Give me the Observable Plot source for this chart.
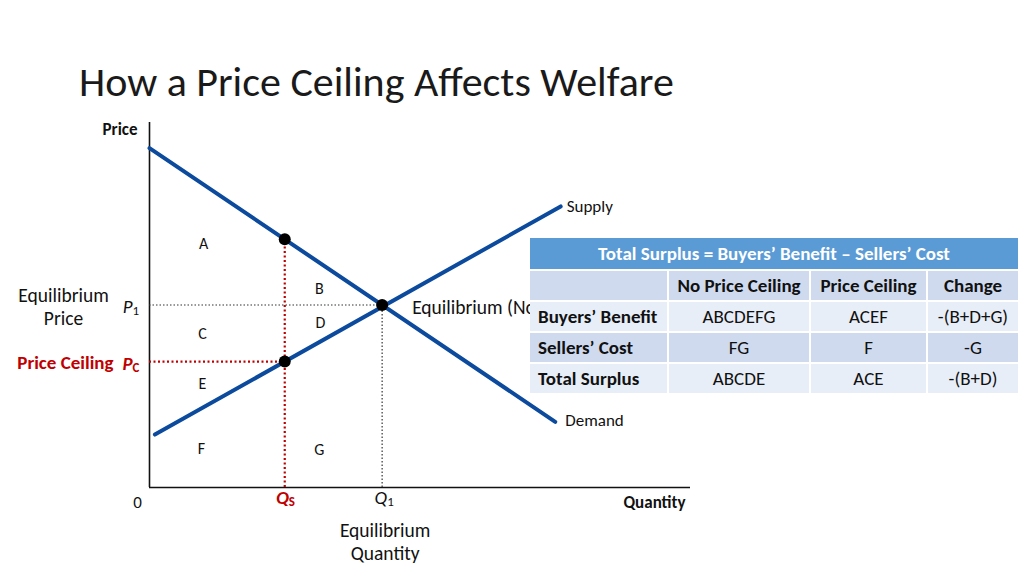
<!DOCTYPE html>
<html>
<head>
<meta charset="utf-8">
<script src="https://cdn.jsdelivr.net/npm/d3@7"></script>
<script src="https://cdn.jsdelivr.net/npm/@observablehq/plot@0.6"></script>
<style>
  html, body { margin: 0; padding: 0; background: #fff; }
  body { width: 1024px; height: 576px; overflow: hidden; position: relative; font-family: Carlito, Calibri, Lato, sans-serif; }
  #title { height: 115px; box-sizing: border-box; padding-left: 79px; padding-top: 61px; font-size: 42px; font-weight: 300; color: #1a1a1a; line-height: 1; white-space: nowrap; }
  #chart svg { display: block; }
  #tbl { position: absolute; left: 530px; top: 238px; display: grid; grid-template-columns: 137px 140px 115px 90px; grid-template-rows: 31px 29px 29px 29px 29px; gap: 2px; background: #fff; }
  #tbl div { display: flex; align-items: center; justify-content: center; font-size: 19px; color: #111; white-space: nowrap; }
  #tbl .head { grid-column: 1 / span 4; background: #5b9bd5; color: #fff; font-weight: 700; }
  #tbl .dark { background: #cfdaee; }
  #tbl .light { background: #e8eef8; }
  #tbl .bold { font-weight: 700; }
  #tbl .left { justify-content: flex-start; padding-left: 8px; }
</style>
</head>
<body>
<div id="title"></div>
<div id="chart"></div>
<div id="tbl"></div>
<script>
// ---- data ----
const titleText = "How a Price Ceiling Affects Welfare";
const xDomain = [0, 100];
const yDomain = [0, 100];
const demandQ = [0, 75];
const demandP = [93, 18];
const supplyQ = [1, 76];
const supplyP = [14.5, 77];
const Q1 = 43, P1 = 50;          // equilibrium
const QS = 25, PC = 34.5;        // price ceiling quantity / price
const PD = 68;                   // demand price at QS
const regionNames = ["A", "B", "C", "D", "E", "F", "G"];
const regionQ = [10, 31.4, 9.8, 31.6, 9.8, 9.6, 31.4];
const regionP = [66.8, 54.5, 42.2, 45.2, 28.5, 10.7, 10.4];

const tableTitle = "Total Surplus = Buyers’ Benefit – Sellers’ Cost";
const tableColumns = ["", "No Price Ceiling", "Price Ceiling", "Change"];
const tableRows = ["Buyers’ Benefit", "Sellers’ Cost", "Total Surplus"];
const noCeiling = ["ABCDEFG", "FG", "ABCDE"];
const withCeiling = ["ACEF", "F", "ACE"];
const change = ["-(B+D+G)", "-G", "-(B+D)"];

// ---- build ----
const FONT = "Carlito, Calibri, Lato, sans-serif";
const RED = "#c00000";
const BLUE = "#0b4a9c";
document.getElementById("title").textContent = titleText;

const demand = demandQ.map((q, i) => ({q, p: demandP[i]}));
const supply = supplyQ.map((q, i) => ({q, p: supplyP[i]}));
const regions = regionNames.map((t, i) => ({t, q: regionQ[i], p: regionP[i]}));
const dots = [{q: Q1, p: P1}, {q: QS, p: PC}, {q: QS, p: PD}];
const x0 = xDomain[0], x1 = xDomain[1], y0 = yDomain[0], y1 = yDomain[1];

const plot = Plot.plot({
  width: 1024,
  height: 461,
  margin: 0,
  x: {domain: xDomain, range: [149, 690], axis: null},
  y: {domain: yDomain, range: [372, 7], axis: null},
  style: {fontFamily: FONT, fontSize: "17px", background: "white", color: "#111", overflow: "visible"},
  marks: [
    // axes
    Plot.ruleX([{x: x0, a: y0, b: y1}], {x: "x", y1: "a", y2: "b", stroke: "#111", strokeWidth: 1.6}),
    Plot.ruleY([{y: y0, a: x0, b: x1}], {y: "y", x1: "a", x2: "b", stroke: "#111", strokeWidth: 1.6}),
    // dotted guides
    Plot.ruleY([{y: P1, a: x0, b: Q1}], {y: "y", x1: "a", x2: "b", stroke: "#333", strokeWidth: 1.2, strokeDasharray: "1.5,2"}),
    Plot.ruleX([{x: Q1, a: y0, b: P1}], {x: "x", y1: "a", y2: "b", stroke: "#333", strokeWidth: 1.2, strokeDasharray: "1.5,2"}),
    Plot.ruleY([{y: PC, a: x0, b: QS}], {y: "y", x1: "a", x2: "b", stroke: RED, strokeWidth: 2.2, strokeDasharray: "2,2.5"}),
    Plot.ruleX([{x: QS, a: y0, b: PD}], {x: "x", y1: "a", y2: "b", stroke: RED, strokeWidth: 2.2, strokeDasharray: "2,2.5"}),
    // curves
    Plot.line(demand, {x: "q", y: "p", stroke: BLUE, strokeWidth: 4}),
    Plot.line(supply, {x: "q", y: "p", stroke: BLUE, strokeWidth: 4}),
    Plot.dot(dots, {x: "q", y: "p", r: 6, fill: "#000"}),
    // region letters
    Plot.text(regions, {x: "q", y: "p", text: "t", fontSize: 16, fill: "#111"}),
    // curve labels
    Plot.text([supply[1]], {x: "q", y: "p", text: () => "Supply", textAnchor: "start", dx: 6, dy: 0, fontSize: 17}),
    Plot.text([demand[1]], {x: "q", y: "p", text: () => "Demand", textAnchor: "start", dx: 10, dy: -1, fontSize: 17}),
    Plot.text([{q: Q1, p: P1}], {x: "q", y: "p", text: () => "Equilibrium (No Price Ceiling)", textAnchor: "start", dx: 30, dy: 3, fontSize: 19.5}),
    // axis labels
    Plot.text([{q: x0, p: y1}], {x: "q", y: "p", text: () => "Price", textAnchor: "end", dx: -12, dy: 7, fontSize: 17, fontWeight: "bold"}),
    Plot.text([{q: x1, p: y0}], {x: "q", y: "p", text: () => "Quantity", textAnchor: "end", dx: -5, dy: 15, fontSize: 17, fontWeight: "bold"}),
    Plot.text([{q: x0, p: y0}], {x: "q", y: "p", text: () => "0", dx: -12, dy: 15, fontSize: 17}),
    // P1
    Plot.text([{q: x0, p: P1}], {x: "q", y: "p", text: () => "P", textAnchor: "end", dx: -17, dy: 2, fontSize: 19, fontStyle: "italic"}),
    Plot.text([{q: x0, p: P1}], {x: "q", y: "p", text: () => "1", textAnchor: "start", dx: -17, dy: 6, fontSize: 13}),
    Plot.text([{q: x0, p: P1}], {x: "q", y: "p", text: () => "Equilibrium\nPrice", dx: -86, dy: 1, lineHeight: 1.18, fontSize: 19.5}),
    // PC
    Plot.text([{q: x0, p: PC}], {x: "q", y: "p", text: () => "P", textAnchor: "end", dx: -17, dy: 2, fontSize: 19, fontStyle: "italic", fontWeight: "bold", fill: RED}),
    Plot.text([{q: x0, p: PC}], {x: "q", y: "p", text: () => "C", textAnchor: "start", dx: -17, dy: 6, fontSize: 13, fontWeight: "bold", fill: RED}),
    Plot.text([{q: x0, p: PC}], {x: "q", y: "p", text: () => "Price Ceiling", textAnchor: "end", dx: -36, dy: 1, fontSize: 19, fontWeight: "bold", fill: RED}),
    // Q1
    Plot.text([{q: Q1, p: y0}], {x: "q", y: "p", text: () => "Q", textAnchor: "end", dx: 5, dy: 10, fontSize: 19, fontStyle: "italic"}),
    Plot.text([{q: Q1, p: y0}], {x: "q", y: "p", text: () => "1", textAnchor: "start", dx: 5, dy: 14, fontSize: 13}),
    Plot.text([{q: Q1, p: y0}], {x: "q", y: "p", text: () => "Equilibrium\nQuantity", dx: 3, dy: 54, lineHeight: 1.18, fontSize: 19.5}),
    // QS
    Plot.text([{q: QS, p: y0}], {x: "q", y: "p", text: () => "Q", textAnchor: "end", dx: 4, dy: 10, fontSize: 19, fontStyle: "italic", fontWeight: "bold", fill: RED}),
    Plot.text([{q: QS, p: y0}], {x: "q", y: "p", text: () => "S", textAnchor: "start", dx: 4, dy: 14, fontSize: 13, fontWeight: "bold", fill: RED})
  ]
});
document.getElementById("chart").appendChild(plot);

// ---- table ----
const tbl = document.getElementById("tbl");
function cell(text, cls) { const d = document.createElement("div"); d.className = cls; d.textContent = text; tbl.appendChild(d); }
cell(tableTitle, "head");
tableColumns.forEach(c => cell(c, "dark bold"));
tableRows.forEach((r, i) => {
  const band = i % 2 === 0 ? "light" : "dark";
  cell(r, band + " bold left");
  cell(noCeiling[i], band);
  cell(withCeiling[i], band);
  cell(change[i], band);
});
</script>
</body>
</html>
